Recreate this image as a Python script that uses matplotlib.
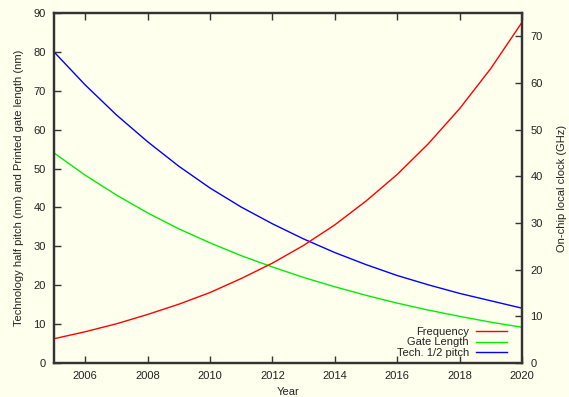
import matplotlib
matplotlib.use("Agg")
import matplotlib.pyplot as plt

plt.rcParams['font.family'] = ['Liberation Sans', 'DejaVu Sans']

years = [2005, 2006, 2007, 2008, 2009, 2010, 2011, 2012,
         2013, 2014, 2015, 2016, 2017, 2018, 2019, 2020]
frequency = [5.2, 6.7, 8.4, 10.4, 12.6, 15.1, 18.1, 21.4,
             25.2, 29.6, 34.7, 40.4, 47.0, 54.5, 63.1, 73.0]
gate_length = [54.0, 48.3, 43.2, 38.6, 34.5, 30.9, 27.6, 24.7,
               22.0, 19.6, 17.4, 15.4, 13.6, 12.0, 10.5, 9.2]
half_pitch = [80.0, 71.5, 63.8, 56.9, 50.6, 45.0, 40.1, 35.8,
              31.9, 28.4, 25.3, 22.5, 20.1, 17.9, 16.0, 14.1]

bg = '#ffffee'
fg = '#222222'
frame = '#333333'

fig = plt.figure(figsize=(5.69, 3.97), dpi=100, facecolor=bg)
ax = fig.add_axes([0.0949, 0.0856, 0.8225, 0.8817])
ax.set_facecolor(bg)
ax2 = ax.twinx()

l2, = ax.plot(years, gate_length, color='#00ee00', lw=1.0, label='Gate Length')
l3, = ax.plot(years, half_pitch, color='#0000ff', lw=1.0, label='Tech. 1/2 pitch')
l1, = ax2.plot(years, frequency, color='#ff0000', lw=1.0, label='Frequency')

ax.set_xlim(2005, 2020)
ax.set_ylim(0, 90)
ax2.set_ylim(0, 75)
ax.set_xticks(range(2006, 2021, 2))
ax.set_yticks(range(0, 91, 10))
ax2.set_yticks(range(0, 71, 10))

ax.tick_params(axis='x', direction='in', top=True, length=5, width=1,
               color=frame, labelsize=8, labelcolor=fg, pad=6)
ax.tick_params(axis='y', direction='in', right=False, length=5, width=1,
               color=frame, labelsize=8, labelcolor=fg, pad=6)
ax2.tick_params(axis='y', direction='in', length=5, width=1,
                color=frame, labelsize=8, labelcolor=fg, pad=6)

for a in (ax, ax2):
    for s in a.spines.values():
        s.set_color(frame)
        s.set_linewidth(1.6)

ax.set_xlabel('Year', fontsize=8, color=fg, labelpad=4)
ax.set_ylabel('Technology half pitch (nm) and Printed gate length (nm)',
              fontsize=8, color=fg, labelpad=7)
ax2.set_ylabel('On-chip local clock (GHz)', fontsize=8, color=fg, labelpad=10)

leg = ax.legend([l1, l2, l3], ['Frequency', 'Gate Length', 'Tech. 1/2 pitch'],
                loc='lower right', bbox_to_anchor=(0.978, 0.0), frameon=False,
                markerfirst=False, fontsize=8, handlelength=2.8,
                labelspacing=0.05, handletextpad=0.6, borderaxespad=0.05)
for t in leg.get_texts():
    t.set_color(fg)

fig.savefig('out.png', dpi=100, facecolor=bg)
